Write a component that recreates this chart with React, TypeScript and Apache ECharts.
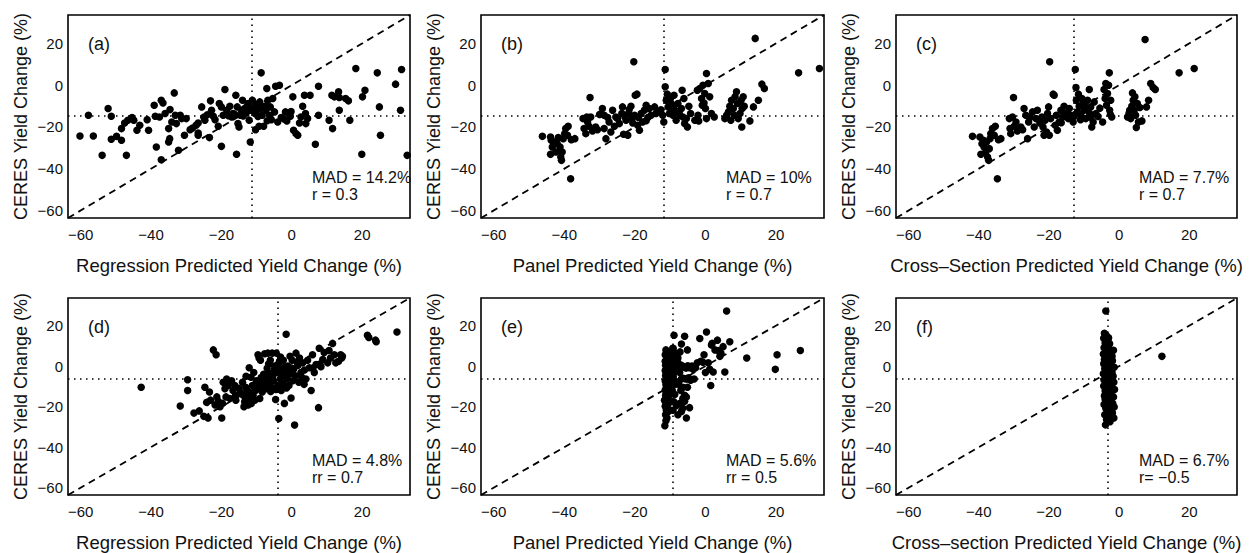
import React, { useEffect, useRef } from "react";
import * as echarts from "echarts";

const AX_MIN = -63.6;
const AX_MAX = 33.6;
const xTicks = [-60, -40, -20, 0, 20];
const yTicks = [-60, -40, -20, 0, 20];

const panelLetters = ["(a)", "(b)", "(c)", "(d)", "(e)", "(f)"];
const xNames = [
  "Regression Predicted Yield Change (%)",
  "Panel Predicted Yield Change (%)",
  "Cross\u2013Section Predicted Yield Change (%)",
  "Regression Predicted Yield Change (%)",
  "Panel Predicted Yield Change (%)",
  "Cross\u2013section Predicted Yield Change (%)",
];
const yName = "CERES Yield Change (%)";
const madTexts = ["MAD = 14.2%", "MAD = 10%", "MAD = 7.7%", "MAD = 4.8%", "MAD = 5.6%", "MAD = 6.7%"];
const rTexts = ["r = 0.3", "r = 0.7", "r = 0.7", "rr = 0.7", "rr = 0.5", "r= \u22120.5"];
const vLines = [-11.5, -11.85, -12.8, -4.0, -9.2, -3.3];
const hLines = [-14.7, -14.7, -14.7, -6.1, -6.1, -6.1];

const panelA = [
  [-60.2, -24.3], [-57.8, -14.4], [-56.4, -24.3], [-53.9, -33.6], [-52.2, -11.2], [-51.3, -14.9],
  [-51.3, -25.9], [-49.8, -24.5], [-48.4, -20.8], [-48.4, -26.4], [-47.5, -18.1], [-47.0, -33.6],
  [-46.6, -16.8], [-45.4, -15.5], [-44.9, -16.8], [-44.0, -21.6], [-43.2, -19.2], [-41.1, -16.5],
  [-40.7, -21.6], [-39.1, -9.6], [-38.8, -14.9], [-38.5, -29.6], [-37.6, -15.2], [-37.1, -7.2],
  [-36.6, -8.5], [-37.1, -35.7], [-36.0, -13.6], [-35.0, -20.8], [-34.7, -25.6], [-35.0, -27.2],
  [-34.6, -11.7], [-34.1, -17.6], [-33.4, -3.7], [-33.1, -14.4], [-32.8, -18.4], [-32.2, -31.2],
  [-31.7, -14.4], [-31.3, -16.0], [-30.5, -24.0], [-30.0, -16.0], [-28.9, -21.3], [-28.2, -20.5],
  [-27.2, -19.2], [-26.6, -22.9], [-26.6, -24.0], [-26.6, -18.1], [-25.6, -10.4], [-24.7, -16.8],
  [-23.4, -25.1], [-23.1, -7.5], [-22.8, -12.0], [-22.3, -14.9], [-21.8, -16.5], [-20.9, -19.7],
  [-20.6, -8.8], [-20.0, -10.4], [-20.0, -29.3], [-19.0, -2.1], [-19.5, -14.4], [-18.5, -12.0],
  [-17.6, -10.1], [-17.1, -15.2], [-16.7, -13.6], [-15.9, -4.8], [-15.7, -33.1], [-15.5, -10.4],
  [-15.3, -18.4], [-15.0, -20.0], [-14.6, -14.4], [-14.3, -12.0], [-14.0, -7.2], [-13.4, -11.2],
  [-13.1, -13.6], [-12.7, -10.1], [-12.4, -8.8], [-12.1, -16.8], [-11.8, -27.2], [-11.5, -12.0],
  [-11.2, -7.2], [-11.0, -10.7], [-10.5, -13.6], [-10.3, -21.3], [-10.1, -9.3], [-9.9, -12.0],
  [-9.3, -19.7], [-9.1, -8.0], [-8.9, -11.2], [-8.7, 5.9], [-8.4, -14.4], [-8.0, -19.7],
  [-7.7, -10.1], [-7.4, -12.0], [-7.1, -1.6], [-6.8, -7.2], [-6.3, -14.4], [-6.1, -10.4],
  [-5.8, -16.5], [-5.4, -6.4], [-4.9, -12.8], [-4.6, -0.5], [-4.0, -17.6], [-3.5, 0.0],
  [-3.0, -15.5], [-1.8, -12.8], [-1.4, -17.1], [-0.8, -13.6], [-0.4, -14.9], [0.3, -5.6],
  [0.5, -21.6], [1.2, -23.2], [1.7, -24.0], [2.2, -18.1], [2.6, -15.2], [3.1, -10.1],
  [3.6, -4.8], [3.9, -13.6], [4.0, -18.4], [4.5, -16.0], [5.2, -4.8], [6.7, -28.3],
  [7.6, -0.5], [7.6, -14.4], [10.6, -16.8], [11.4, -4.8], [11.6, -20.8], [12.1, -5.6],
  [13.3, -3.2], [13.5, -5.9], [13.5, -12.0], [15.3, -6.4], [16.1, -7.5], [16.5, -16.8],
  [18.2, 8.0], [19.9, -33.1], [20.1, -5.6], [20.8, -2.4], [24.3, 5.9], [24.9, -10.4],
  [25.2, -24.0], [29.5, 0.5], [30.9, -12.0], [31.2, 7.5], [32.8, -33.6],
  [-12.9, -13.0], [-13.8, -14.8], [-16.2, -14.0], [-18.0, -14.6], [-24.0, -14.2], [-25.0, -15.3],
  [-9.6, -15.0], [-7.0, -17.0], [-2.2, -16.2], [-0.2, -12.6],
];

const panelB = [
  [-46.2, -24.5], [-43.9, -24.8], [-43.7, -26.4], [-43.9, -33.1], [-43.4, -29.6], [-42.9, -27.2],
  [-42.4, -32.0], [-42.0, -28.0], [-41.7, -25.1], [-41.2, -29.6], [-41.0, -34.4], [-40.8, -36.0],
  [-40.6, -32.0], [-40.3, -25.6], [-39.9, -23.2], [-39.6, -20.8], [-39.1, -24.0], [-38.9, -19.7],
  [-38.2, -44.8], [-38.0, -26.1], [-37.0, -25.6], [-34.7, -16.0], [-34.4, -20.8], [-33.9, -23.2],
  [-33.6, -15.2], [-33.4, -17.6], [-33.0, -19.7], [-32.7, -5.9], [-32.5, -15.2], [-32.0, -21.9],
  [-31.1, -20.0], [-30.6, -21.3], [-29.2, -11.2], [-28.7, -14.4], [-28.7, -20.8], [-28.2, -25.6],
  [-27.7, -15.5], [-27.3, -17.6], [-26.8, -22.4], [-26.3, -12.0], [-25.8, -19.7], [-25.4, -15.2],
  [-24.9, -16.0], [-24.4, -18.4], [-23.7, -13.6], [-23.5, -10.4], [-23.2, -23.5], [-22.8, -15.2],
  [-22.5, -16.8], [-22.0, -24.0], [-21.8, -13.6], [-21.6, -11.7], [-21.1, -10.1], [-20.6, -18.1],
  [-20.3, 11.2], [-20.1, -14.4], [-19.9, -4.8], [-19.4, -4.3], [-19.2, -19.2], [-19.0, -15.5],
  [-18.7, -21.6], [-18.2, -13.6], [-17.8, -17.6], [-17.3, -12.0], [-16.8, -9.6], [-16.3, -15.5],
  [-15.9, -11.2], [-15.4, -14.4], [-14.4, -10.4], [-14.0, -13.6], [-13.0, -12.8], [-12.1, -14.4],
  [-11.8, -17.6], [-11.4, 7.5], [-11.4, -0.8], [-11.1, -7.2], [-10.8, -4.3], [-10.6, -10.4],
  [-10.2, -13.6], [-9.9, -6.4], [-9.5, -9.1], [-9.2, -14.4], [-8.9, -4.8], [-8.7, -12.0],
  [-8.3, -16.8], [-7.8, -8.8], [-7.3, -14.4], [-6.8, -11.2], [-6.6, -2.4], [-6.4, -15.2],
  [-6.1, -6.4], [-5.9, -18.4], [-5.4, -16.0], [-5.1, -20.0], [-4.7, -10.1], [-4.2, -13.6],
  [-3.0, -16.8], [-2.3, -2.4], [-2.1, -14.4], [-1.9, -17.1], [-1.6, -1.6], [-1.1, -6.4],
  [-0.9, -9.6], [-0.7, 0.0], [-0.4, -8.5], [-0.2, -4.0], [0.0, -11.2], [0.3, 5.6],
  [0.3, -16.0], [0.8, 0.8], [1.2, -5.6], [1.7, -13.6], [2.5, -15.2], [5.5, -16.0],
  [6.0, -14.4], [6.5, -12.8], [6.9, -10.1], [7.2, -16.8], [7.4, -7.2], [7.9, -11.2],
  [8.2, -14.4], [8.4, -5.6], [8.8, -3.2], [9.1, -8.8], [9.3, -16.0], [9.8, -13.6],
  [10.1, -7.2], [10.3, -20.0], [10.4, -11.2], [10.7, -5.6], [11.0, -10.1], [12.6, -17.1],
  [13.6, -10.4], [14.1, 22.4], [15.0, -7.2], [16.0, 0.5], [16.7, -1.6], [26.4, 5.9], [32.3, 8.0],
  [-9.0, -11.0], [-7.5, -13.0], [-12.6, -11.8], [-16.8, -17.0], [-20.8, -16.0], [-30.0, -14.0],
];

const panelC = [
  [-41.8, -24.5], [-39.7, -24.8], [-39.4, -33.1], [-39.1, -28.0], [-38.7, -26.4], [-38.5, -29.6],
  [-38.0, -32.0], [-37.8, -27.2], [-37.5, -34.4], [-37.2, -36.0], [-37.0, -30.4], [-36.8, -25.6],
  [-36.6, -23.2], [-36.1, -20.8], [-35.6, -24.0], [-35.3, -19.7], [-34.7, -44.8], [-34.4, -26.1],
  [-33.7, -25.6], [-31.3, -16.0], [-31.1, -20.8], [-30.9, -23.2], [-30.4, -15.2], [-30.1, -5.9],
  [-29.9, -19.7], [-29.4, -17.6], [-29.0, -21.9], [-28.0, -20.0], [-27.5, -21.3], [-27.1, -11.2],
  [-26.6, -14.4], [-26.1, -25.6], [-25.8, -17.6], [-25.4, -15.5], [-24.7, -12.8], [-24.2, -20.0],
  [-23.7, -16.0], [-23.3, -12.0], [-22.6, -18.1], [-22.0, -15.2], [-21.7, -20.0], [-21.4, -24.0],
  [-21.1, -16.8], [-20.7, -22.4], [-20.4, -13.6], [-20.1, -10.4], [-19.9, -24.0], [-19.8, 11.2],
  [-19.5, -16.0], [-18.8, -4.3], [-18.5, -4.8], [-18.2, -19.2], [-17.9, -14.4], [-17.6, -21.6],
  [-17.1, -17.6], [-16.6, -12.0], [-16.1, -15.2], [-15.7, -10.1], [-15.2, -13.6], [-14.2, -11.2],
  [-13.8, -14.4], [-13.1, -17.6], [-12.5, 7.5], [-12.3, -1.1], [-12.2, -7.2], [-11.9, -12.8],
  [-11.6, -4.3], [-11.4, -10.1], [-10.9, -14.4], [-10.6, -6.4], [-10.3, -8.8], [-10.0, -12.0],
  [-9.5, -16.0], [-9.0, -7.2], [-8.5, -2.1], [-8.4, -13.6], [-8.1, -10.4], [-7.8, -20.0],
  [-7.4, -17.6], [-7.1, -8.0], [-6.6, -13.6], [-4.7, -17.6], [-4.3, -2.1], [-4.0, -6.4],
  [-3.8, 0.8], [-3.6, -9.6], [-3.3, -4.0], [-3.0, 0.0], [-2.8, 5.9], [-2.7, -12.0],
  [-2.4, -7.2], [-2.1, -15.2], [2.4, -15.2], [2.8, -13.6], [3.3, -16.0], [3.6, -10.1],
  [3.8, -3.7], [4.0, -7.2], [4.3, -12.0], [4.5, -5.6], [4.7, -14.4], [4.9, -20.3],
  [5.2, -8.8], [5.5, -17.6], [5.9, -10.7], [6.5, -17.1], [7.4, 21.9], [7.8, -10.4],
  [8.4, -7.2], [9.0, 0.8], [9.7, -1.1], [10.3, -2.1], [17.1, 5.9], [21.4, 8.0],
  [-11.0, -16.5], [-9.0, -11.0], [-6.0, -15.0], [-14.5, -16.0], [-16.5, -18.0], [-2.5, -14.0],
  [3.0, -12.0], [-5.5, -11.0], [-12.8, -15.0], [-8.0, -15.5],
];

const panelD = [
  [-42.8, -10.4], [-31.7, -19.7], [-29.6, -6.7], [-29.6, -12.0], [-27.8, -23.2], [-26.3, -22.1],
  [-25.0, -24.8], [-24.7, -10.4], [-24.2, -17.9], [-23.8, -25.6], [-23.4, -12.8], [-23.1, -16.8],
  [-22.3, 8.0], [-21.8, -19.2], [-21.5, 5.6], [-21.3, -15.2], [-20.9, -17.3], [-20.4, -20.0],
  [-19.9, -25.6], [-19.7, -18.4], [-19.5, -8.0], [-19.0, -11.2], [-18.7, -15.2], [-18.5, -6.4],
  [-18.1, -9.6], [-17.6, -16.0], [-17.1, -7.2], [-16.7, -12.0], [-16.2, -9.6], [-15.9, -16.8],
  [-14.0, -8.0], [-13.8, -14.4], [-13.6, -20.0], [-13.4, -17.6], [-13.1, -10.4], [-12.9, -15.2],
  [-12.7, -12.0], [-12.4, -19.2], [-12.1, -0.8], [-12.1, -16.0], [-11.8, -13.1], [-11.5, -18.4],
  [-11.2, -9.6], [-11.0, -14.4], [-10.8, -3.2], [-10.5, -16.8], [-10.3, -12.0], [-10.1, -7.2],
  [-9.6, 5.6], [-9.3, 4.0], [-9.3, -10.4], [-9.1, -16.0], [-8.9, 2.9], [-8.7, -5.6],
  [-8.4, -12.8], [-8.2, -8.8], [-7.7, 6.1], [-7.4, -6.4], [-7.3, -11.2], [-6.8, 6.4],
  [-6.8, -3.2], [-6.5, -8.0], [-6.1, 2.9], [-5.8, -10.4], [-5.6, 6.4], [-5.4, -4.8],
  [-5.2, -7.2], [-4.9, 0.0], [-4.6, -16.5], [-4.4, 6.4], [-4.2, -3.2], [-4.0, -9.6],
  [-3.7, -25.9], [-3.5, 2.4], [-3.3, -6.4], [-3.0, -1.6], [-2.7, -4.8], [-2.5, -8.8],
  [-2.4, 2.9], [-2.1, -18.4], [-1.8, -2.9], [-1.6, 15.7], [-1.4, -6.4], [-1.1, 0.0],
  [-0.8, -9.6], [-0.7, -4.0], [-0.2, -15.7], [0.1, 2.9], [0.3, -7.2], [0.5, -1.6],
  [0.8, -29.1], [1.0, -4.8], [1.2, 6.4], [1.7, 0.3], [2.0, -8.0], [2.2, 4.0],
  [2.6, -3.2], [3.1, 1.6], [3.6, -1.9], [4.0, -6.4], [4.5, 2.9], [5.0, -0.8],
  [5.5, -12.0], [5.9, 5.6], [6.4, -3.2], [6.9, 0.8], [7.6, -20.5], [7.8, 8.8],
  [8.3, -0.3], [8.8, 3.2], [9.2, 6.7], [10.2, 1.6], [10.6, 7.7], [11.6, 11.2],
  [12.1, 5.6], [12.5, 1.6], [13.3, 2.4], [13.9, 5.6], [14.2, 4.0], [14.4, 4.8],
  [21.5, 15.2], [21.9, 14.1], [23.8, 12.8], [24.0, 12.0], [29.9, 16.8],
  [-8.0, -4.0], [-7.0, -1.0], [-6.2, -6.0], [-5.0, -2.0], [-3.8, 1.0], [-2.0, -0.5],
  [-1.0, -3.0], [0.0, -1.0], [-9.8, -7.5], [-7.8, -9.5], [-6.0, -12.5], [-4.5, -11.5],
  [-3.0, -12.0], [-1.5, -10.8], [-11.6, -5.5], [-13.0, -5.0], [-15.0, -11.0], [-14.6, -13.0],
  [-16.0, -14.5], [2.8, -5.5], [3.5, -9.0], [6.0, -1.0], [8.0, 1.0], [11.0, 4.0],
  [-0.5, 4.8], [1.5, 2.0], [-3.2, 4.5], [-6.6, 1.0],
];

const panelE = [
  [-11.2, 8.0], [-10.5, 6.7], [-11.4, 5.6], [-10.0, 5.0], [-11.0, 4.0], [-10.3, 3.2],
  [-11.4, 2.4], [-9.8, 2.0], [-10.8, 1.2], [-11.3, 0.4], [-10.2, -0.2], [-11.0, -1.0],
  [-9.6, -1.6], [-11.4, -2.2], [-10.5, -2.8], [-11.1, -3.5], [-9.9, -4.2], [-11.3, -4.8],
  [-10.6, -5.5], [-11.0, -6.2], [-10.1, -6.8], [-11.4, -7.4], [-10.7, -8.0], [-9.8, -8.6],
  [-11.2, -9.2], [-10.4, -9.8], [-11.0, -10.6], [-9.9, -11.2], [-11.4, -11.8], [-10.6, -12.5],
  [-11.1, -13.2], [-10.2, -13.8], [-11.3, -14.5], [-10.5, -15.2], [-11.0, -16.0], [-11.6, -16.8],
  [-10.3, -17.4], [-11.2, -18.2], [-10.6, -19.0], [-11.4, -19.8], [-10.8, -20.6], [-11.1, -21.6],
  [-10.5, -22.4], [-11.3, -24.0], [-10.9, -25.6], [-11.2, -27.0], [-11.5, -29.4],
  [-9.2, 8.8], [-8.6, 6.4], [-9.0, 3.6], [-8.4, 1.2], [-9.3, -0.6], [-8.8, -3.0],
  [-9.1, -5.2], [-8.5, -7.5], [-9.4, -12.0], [-8.7, -14.0], [-9.0, -17.6], [-8.2, -19.5],
  [-9.2, -21.8], [-8.6, -9.0], [-7.5, -1.0], [-7.0, 0.5], [-6.5, 0.0], [-6.0, -0.5],
  [-5.5, -1.0], [-5.0, 0.2], [-4.0, -0.4], [-3.5, -1.5], [-7.8, 4.0], [-7.2, 7.0],
  [-6.2, -6.0], [-5.6, -6.4], [-4.8, -5.8], [-4.2, -7.0], [-7.0, -12.0], [-6.4, -16.0],
  [-7.6, -9.0],
  [-8.9, 15.2], [-6.8, 10.9], [-5.9, 14.7], [-5.1, 8.0], [-9.2, 8.8], [-8.3, 4.8],
  [-7.8, 1.6], [-7.3, -3.2], [-6.8, -6.4], [-6.4, -10.4], [-5.9, -14.4], [-5.4, -15.2],
  [-5.1, -10.4], [-4.9, -6.4], [-4.5, -20.5], [-5.4, -25.6], [-6.8, -22.4], [-7.8, -24.0],
  [-6.4, -20.8], [-5.9, -17.3], [-7.3, -18.4], [-4.5, -0.8], [-3.8, 0.0], [-3.2, -6.4],
  [-2.8, -0.8], [-2.3, 1.6], [-1.6, 13.6], [-1.3, 2.4], [-0.7, 1.9], [-0.4, 5.6],
  [0.0, -3.2], [0.3, 16.8], [0.8, 1.6], [1.2, -1.6], [1.5, -9.6], [1.7, 10.4],
  [1.9, 11.2], [2.2, -2.9], [2.7, 8.0], [3.4, 12.8], [3.6, 7.7], [4.1, 4.8],
  [4.4, 6.4], [5.0, 9.6], [5.5, -2.9], [6.0, 27.2], [6.9, 12.0], [11.7, 4.0],
  [19.8, -1.6], [20.3, 5.6], [26.9, 7.7],
];

const panelF = [
  [-3.8, 27.2], [12.2, 4.8],
  [-4.2, 16.2], [-3.6, 15.0], [-4.4, 13.8], [-3.2, 12.6], [-4.0, 11.4], [-3.5, 10.2],
  [-4.3, 9.0], [-2.8, 8.4], [-1.6, 7.8], [-3.9, 7.2], [-2.2, 6.4], [-4.5, 6.0],
  [-3.0, 5.2], [-3.8, 4.4], [-2.4, 3.8], [-4.2, 3.2], [-1.9, 2.6], [-3.4, 2.0],
  [-4.4, 1.2], [-2.6, 0.6], [-3.7, 0.0], [-1.4, -0.6], [-4.1, -1.2], [-2.9, -1.8],
  [-3.6, -2.6], [-2.0, -3.2], [-4.5, -3.8], [-3.1, -4.4], [-1.7, -5.0], [-3.9, -5.6],
  [-2.5, -6.2], [-4.3, -6.8], [-3.3, -7.4], [-1.5, -8.0], [-3.8, -8.6], [-2.7, -9.2],
  [-4.4, -9.8], [-2.1, -10.4], [-3.5, -11.0], [-1.3, -11.6], [-4.0, -12.2], [-2.9, -12.8],
  [-3.7, -13.4], [-2.3, -14.0], [-4.2, -14.6], [-1.6, -15.2], [-3.2, -15.8], [-4.0, -16.4],
  [-2.6, -17.0], [-3.6, -17.6], [-1.8, -18.4], [-4.3, -19.0], [-3.0, -19.6], [-1.4, -20.2],
  [-3.8, -20.8], [-2.4, -21.6], [-3.4, -22.4], [-1.9, -23.2], [-4.1, -24.0], [-2.8, -24.8],
  [-1.5, -25.6], [-3.6, -26.4], [-2.6, -27.4], [-3.9, -29.0],
  [-3.0, 14.0], [-2.7, 11.0], [-3.1, 9.6], [-2.0, 4.8], [-3.3, 3.6], [-2.9, -0.2],
  [-3.2, -3.0], [-2.6, -7.0], [-3.0, -10.0], [-3.4, -12.0], [-2.5, -16.0], [-3.2, -18.0],
  [-2.7, -22.0], [-3.1, -25.0],
];

const panels = [panelA, panelB, panelC, panelD, panelE, panelF];

const gridBoxes = [
  { left: 68, top: 15, width: 342, height: 203 },
  { left: 481, top: 15, width: 343, height: 203 },
  { left: 896, top: 15, width: 341, height: 203 },
  { left: 68, top: 298, width: 342, height: 203 },
  { left: 481, top: 298, width: 343, height: 203 },
  { left: 896, top: 298, width: 341, height: 203 },
];

const FONT = "'Liberation Sans', Arial, Helvetica, sans-serif";
const fmt = (v: number) => String(v).replace("-", "\u2212");

export default function App() {
  const ref = useRef<HTMLDivElement>(null);
  useEffect(() => {
    if (!ref.current) return;
    const chart = echarts.init(ref.current, null, { renderer: "svg" });
    const grid: any[] = [];
    const xAxis: any[] = [];
    const yAxis: any[] = [];
    const series: any[] = [];
    const graphic: any[] = [];
    panels.forEach((pts, i) => {
      const g = gridBoxes[i];
      grid.push({
        left: g.left, top: g.top, width: g.width, height: g.height,
        show: true, borderColor: "#000", borderWidth: 1.6, backgroundColor: "transparent",
      });
      xAxis.push({
        type: "value", gridIndex: i, min: AX_MIN, max: AX_MAX,
        name: xNames[i], nameLocation: "middle", nameGap: 38,
        nameTextStyle: { fontFamily: FONT, fontSize: 18.5, color: "#111" },
        axisLine: { show: false },
        axisTick: { show: false },
        axisLabel: { customValues: xTicks, formatter: fmt, fontFamily: FONT, fontSize: 15, color: "#111", margin: 9 },
        splitLine: { show: false },
      });
      yAxis.push({
        type: "value", gridIndex: i, min: AX_MIN, max: AX_MAX,
        name: yName, nameLocation: "middle", nameGap: 38, nameRotate: 90,
        nameTextStyle: { fontFamily: FONT, fontSize: 18, color: "#111" },
        axisLine: { show: false },
        axisTick: { show: false },
        axisLabel: { customValues: yTicks, formatter: fmt, fontFamily: FONT, fontSize: 15, color: "#111", margin: 5 },
        splitLine: { show: false },
      });
      series.push({
        type: "line", xAxisIndex: i, yAxisIndex: i,
        data: [[AX_MIN, AX_MIN], [AX_MAX, AX_MAX]],
        showSymbol: false, symbol: "none", silent: true,
        lineStyle: { color: "#000", width: 1.8, type: [7, 5] },
        markLine: {
          silent: true, symbol: "none", label: { show: false },
          lineStyle: { color: "#000", width: 1.6, type: [1.5, 4.5] },
          data: [{ xAxis: vLines[i] }, { yAxis: hLines[i] }],
        },
        z: 2,
      });
      series.push({
        type: "scatter", xAxisIndex: i, yAxisIndex: i, data: pts,
        symbol: "circle", symbolSize: 7.5, itemStyle: { color: "#000", opacity: 1 }, z: 3,
      });
      graphic.push({
        type: "text", left: g.left + 20, top: g.top + 20,
        style: { text: panelLetters[i], font: `18px ${FONT}`, fill: "#111" },
      });
      graphic.push({
        type: "text", left: g.left + g.width - 98, top: g.top + g.height - 49,
        style: { text: madTexts[i] + "\n" + rTexts[i], font: `16px ${FONT}`, fill: "#111", lineHeight: 17 },
      });
    });
    chart.setOption({
      animation: false,
      backgroundColor: "#fff",
      grid, xAxis, yAxis, series, graphic,
    });
    return () => chart.dispose();
  }, []);
  return <div ref={ref} style={{ position: "fixed", left: 0, top: 0, width: 1249, height: 553 }} />;
}
